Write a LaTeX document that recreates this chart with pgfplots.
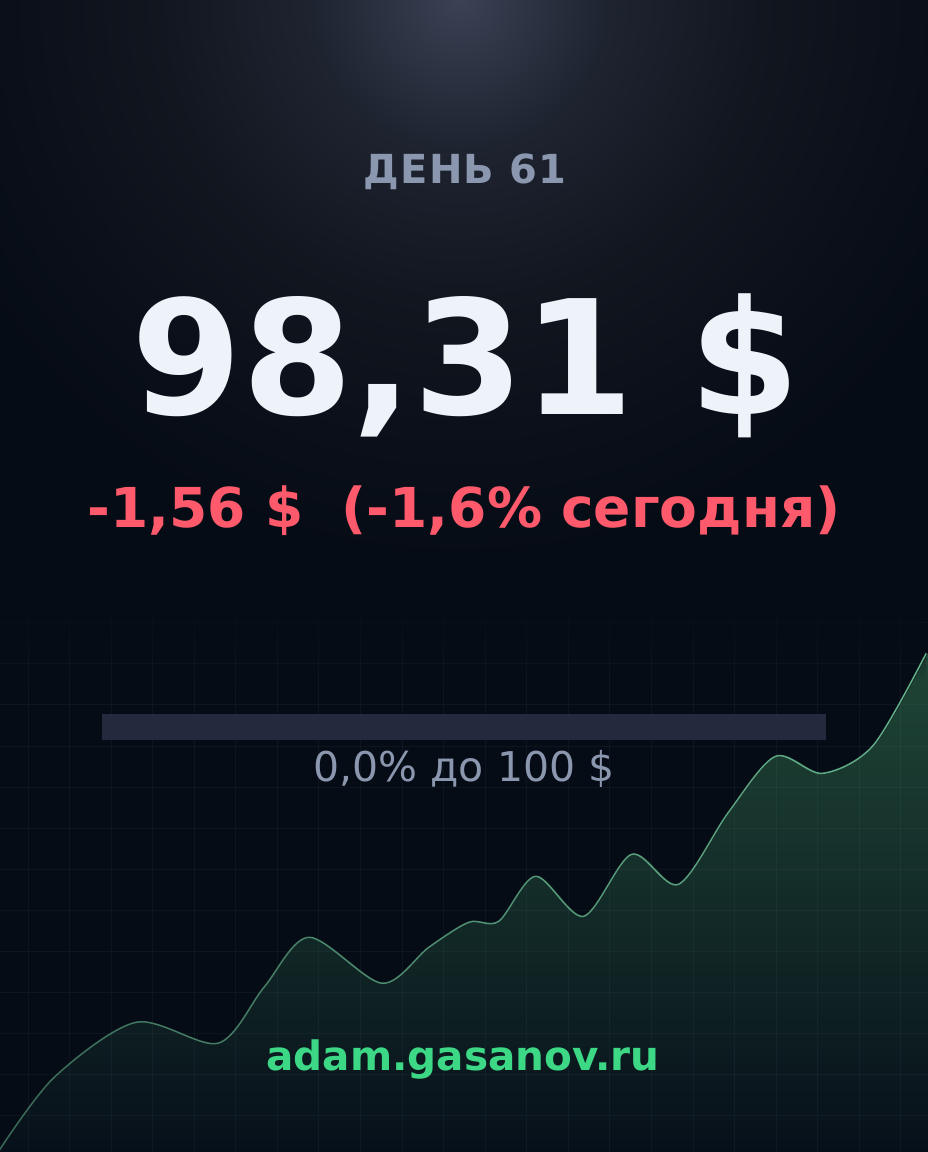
\documentclass[border=0pt]{standalone}
\usepackage{fontspec}
\setmainfont{DejaVu Sans}
\usepackage{pgfplots}
\usepackage{pgfplotstable}
\pgfplotsset{compat=1.18}
\usetikzlibrary{fadings}

\definecolor{bg}{HTML}{060C16}
\definecolor{glowA}{HTML}{3B4254}
\definecolor{glowB}{HTML}{2F3545}
\definecolor{glowC}{HTML}{1E2330}
\definecolor{glowD}{HTML}{11161F}
\definecolor{glowE}{HTML}{0A0F19}
\definecolor{gridc}{HTML}{8FB0C8}
\definecolor{fillTop}{HTML}{1F4636}
\definecolor{fillBot}{HTML}{07101A}
\definecolor{linec}{HTML}{64B28A}
\definecolor{daygray}{HTML}{8A97AE}
\definecolor{pricew}{HTML}{EEF3FA}
\definecolor{downred}{HTML}{FF5A6B}
\definecolor{barc}{HTML}{232A3D}
\definecolor{sitegreen}{HTML}{3DD886}

% glow at the top centre, used at natural size (1bp ~ 1px)
\pgfdeclareradialshading{glow}{\pgfpoint{0bp}{0bp}}{%
  color(0bp)=(glowA); color(60bp)=(glowB); color(150bp)=(glowC);
  color(300bp)=(glowD); color(450bp)=(glowE); color(560bp)=(bg); color(640bp)=(bg)}

\tikzfading[name=linefade, left color=transparent!45, right color=transparent!0]

% price path, x in px from left, y in px from bottom
\pgfplotstableread{
x y
0 2
55 75
137 130
219 109
265 165
310 215
383 169
430 205
470 230
500 231
537 276
585 236
633 298
680 268
730 340
777 396
824 379
875 407
928 499
}\curve

\pgfplotsset{
  overlay axis/.style={
    at={(0,0)}, anchor=south west,
    width=928pt, scale only axis,
    xmin=0, xmax=928, ymin=0,
    axis line style={draw=none},
    tick style={draw=none},
    xticklabels={}, yticklabels={},
  },
}

\begin{document}
\begin{tikzpicture}[x=1pt,y=1pt]
\path[use as bounding box] (0,0) rectangle (928,1152);
\fill[bg] (0,0) rectangle (928,1152);
\begin{scope}
  \clip (0,0) rectangle (928,1152);
  \node[inner sep=0pt, outer sep=0pt] at (460,1152) {\pgfuseshading{glow}};
\end{scope}

% area under the curve
\begin{axis}[overlay axis, height=1152pt, ymax=1152, xtick=\empty, ytick=\empty]
  \addplot[draw=none, smooth, top color=fillTop, bottom color=fillBot]
    table[x=x, y=y] {\curve} \closedcycle;
\end{axis}

% faint grid, lower part only
\begin{axis}[overlay axis, height=560pt, ymax=560,
    xtick={28,69.57,...,928}, ytick={36,77.1,...,560},
    grid=major, major grid style={gridc, opacity=0.055, line width=1pt}]
\end{axis}
\fill[bg, path fading=south] (0,470) rectangle (928,562);

% price line
\begin{axis}[overlay axis, height=1152pt, ymax=1152, xtick=\empty, ytick=\empty]
  \addplot[linec, line width=1.5pt, smooth, path fading=linefade]
    table[x=x, y=y] {\curve};
\end{axis}

% texts
\node[anchor=base, text=daygray, font=\bfseries\fontsize{40}{48}\selectfont\addfontfeature{LetterSpace=3}]
  at (465,968) {ДЕНЬ 61};
\node[anchor=base, text=pricew, font=\bfseries\fontsize{159}{170}\selectfont]
  at (466,737) {98,31 \$};
\node[anchor=base, text=downred, font=\bfseries\fontsize{55}{64}\selectfont]
  at (464,624) {-1,56 \$\ \ (-1,6\% сегодня)};
\fill[barc] (102,412) rectangle (826,438);
\node[anchor=base, text=daygray, font=\fontsize{41}{48}\selectfont]
  at (464,370) {0,0\% до 100 \$};
\node[anchor=base, text=sitegreen, font=\bfseries\fontsize{40.5}{48}\selectfont]
  at (463,81) {adam.gasanov.ru};
\end{tikzpicture}
\end{document}
